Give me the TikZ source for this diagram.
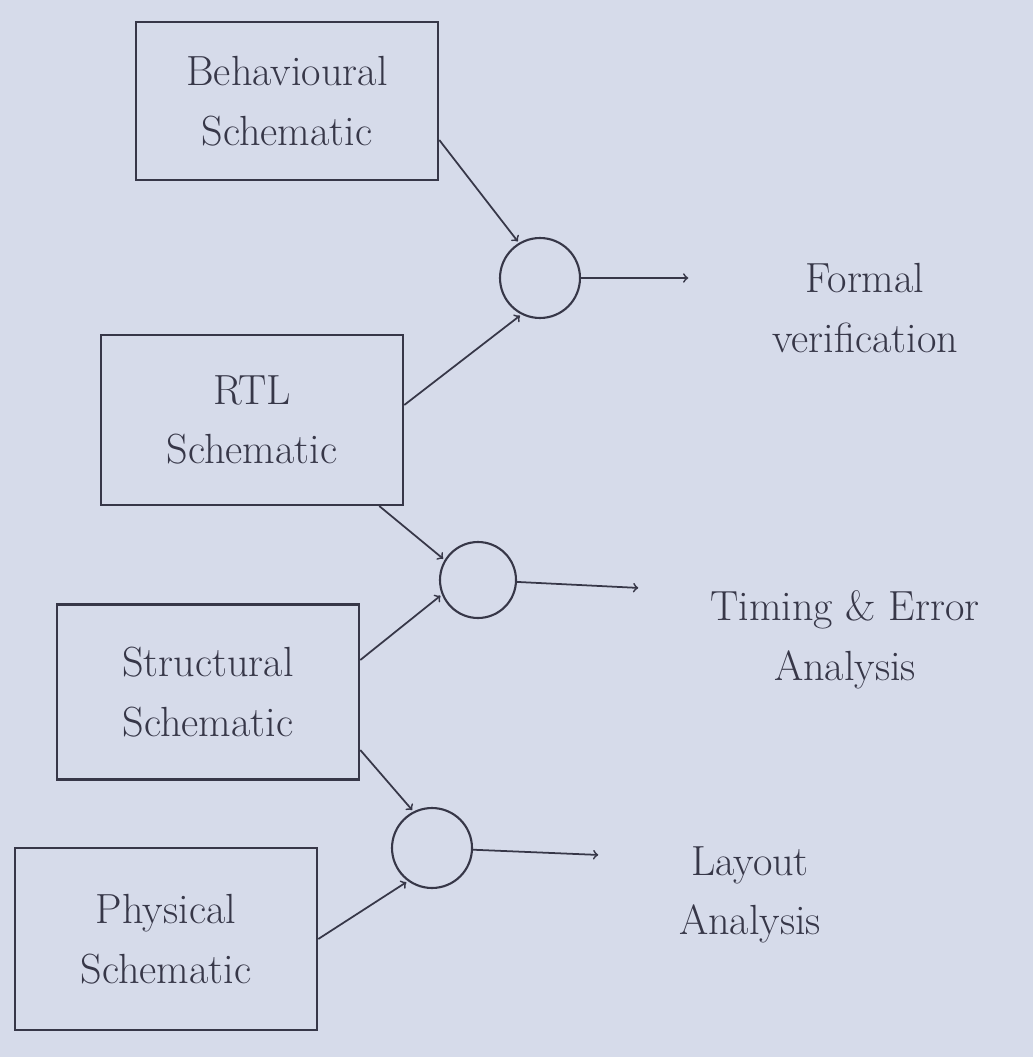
\documentclass[tikz,border=0pt]{standalone}
\usepackage{tikz}
\usetikzlibrary{arrows,positioning}
\definecolor{paper}{RGB}{214,219,234}
\definecolor{ink}{RGB}{55,55,72}

\begin{document}
\begin{tikzpicture}
	[ x=0.02cm, y=-0.02cm,
		construct/.style={rectangle,draw=ink,line width=1.2pt,minimum width=6.05cm,minimum height=3.4cm,align=center,text=ink,font=\fontsize{24}{34}\selectfont},
		junction/.style={circle,draw=ink,line width=1.2pt,minimum size=1.52cm,inner sep=0pt},
		outcome/.style={align=center,text=ink,font=\fontsize{24}{34}\selectfont},
		arrowOut/.style={->,shorten >=1pt,>=to,line width=1pt,draw=ink}]

	\fill[paper] (0,0) rectangle (1033,1057);

	% schematics
	\node[construct,minimum height=3.16cm] (behav schem) at (287,101) {Behavioural\\Schematic};
	\node[construct] (rtl schem) at (252,420) {RTL\\Schematic};
	\node[construct,minimum height=3.5cm] (struct schem) at (208,692) {Structural\\Schematic};
	\node[construct,minimum height=3.64cm] (phys schem) at (166,939) {Physical\\Schematic};

	% junctions
	\node[junction,minimum height=1.6cm] (formal junc) at (540,278) {};
	\node[junction] (timing junc) at (478,580) {};
	\node[junction,minimum height=1.6cm] (layout junc) at (432,848) {};

	% results
	\node[outcome] (formal ver) at (865,308) {Formal\\verification};
	\node[outcome] (timing err) at (845,640) {Timing \& Error\\Analysis};
	\node[outcome] (layout an) at (750,895) {Layout\\Analysis};
	\coordinate (formal end) at (690,278);
	\coordinate (timing end) at (640,588);
	\coordinate (layout end) at (600,855);

	\draw[arrowOut] ([yshift=-0.78cm] behav schem.east) -- (formal junc.121);
	\draw[arrowOut] ([yshift=0.3cm] rtl schem.east) -- (formal junc.243);
	\draw[arrowOut] ([xshift=-0.5cm] rtl schem.south east) -- (timing junc.149);
	\draw[arrowOut] ([yshift=0.64cm] struct schem.east) -- (timing junc.202);
	\draw[arrowOut] ([yshift=-1.16cm] struct schem.east) -- (layout junc.117);
	\draw[arrowOut] (phys schem.east) -- (layout junc.234);

	\draw[arrowOut] (formal junc) -- (formal end);
	\draw[arrowOut] (timing junc) -- (timing end);
	\draw[arrowOut] (layout junc) -- (layout end);
\end{tikzpicture}
\end{document}
